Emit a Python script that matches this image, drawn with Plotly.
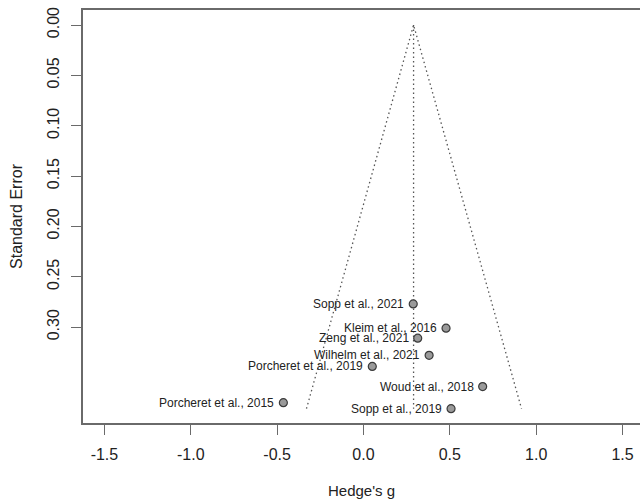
import plotly.graph_objects as go

# ---- data ----
studies = [
    "Sopp et al., 2021",
    "Kleim et al., 2016",
    "Zeng et al., 2021",
    "Wilhelm et al., 2021",
    "Porcheret et al., 2019",
    "Woud et al., 2018",
    "Porcheret et al., 2015",
    "Sopp et al., 2019",
]
hedges_g = [0.288, 0.478, 0.314, 0.380, 0.051, 0.690, -0.464, 0.507]
std_err = [0.277, 0.301, 0.311, 0.328, 0.339, 0.359, 0.375, 0.381]

pooled_g = 0.29          # apex / centre line of the funnel
funnel_lower = -0.33     # left funnel edge at the bottom
funnel_upper = 0.915     # right funnel edge at the bottom
funnel_se_max = 0.381    # funnel depth

x_ticks = [-1.5, -1.0, -0.5, 0.0, 0.5, 1.0, 1.5]
x_tick_labels = ["-1.5", "-1.0", "-0.5", "0.0", "0.5", "1.0", "1.5"]
y_ticks = [0.00, 0.05, 0.10, 0.15, 0.20, 0.25, 0.30]
y_tick_labels = ["0.00", "0.05", "0.10", "0.15", "0.20", "0.25", "0.30"]

FONT = "Liberation Sans, Arial, Helvetica, sans-serif"
AXCOL = "#6a6a6a"
TXT = "#222222"

fig = go.Figure()

# funnel (pseudo confidence region)
fig.add_trace(go.Scatter(
    x=[funnel_lower, pooled_g, funnel_upper],
    y=[funnel_se_max, 0, funnel_se_max],
    mode="lines",
    line=dict(color="#555555", width=1.3, dash="1.5px,3px"),
    hoverinfo="skip", showlegend=False,
))
# centre line
fig.add_trace(go.Scatter(
    x=[pooled_g, pooled_g],
    y=[0, funnel_se_max],
    mode="lines",
    line=dict(color="#555555", width=1.3, dash="1.5px,3px"),
    hoverinfo="skip", showlegend=False,
))
# studies
fig.add_trace(go.Scatter(
    x=hedges_g, y=std_err, mode="markers",
    marker=dict(size=8, color="#9a9a9a", line=dict(color="#3a3a3a", width=1.2)),
    text=studies, hoverinfo="text", showlegend=False,
))

for s, g, se in zip(studies, hedges_g, std_err):
    fig.add_annotation(
        x=g, y=se, text=s, showarrow=False,
        xanchor="right", yanchor="middle", xshift=-7,
        font=dict(family=FONT, size=12, color=TXT),
    )

fig.update_layout(
    width=640, height=503, autosize=False,
    margin=dict(l=83, r=0, t=10, b=80),
    paper_bgcolor="white", plot_bgcolor="white",
    font=dict(family=FONT, size=15, color=TXT),
    showlegend=False,
)

fig.update_xaxes(
    range=[-1.624, 1.601],
    tickvals=x_ticks, ticktext=x_tick_labels,
    ticks="outside", ticklen=10, tickwidth=1.3, tickcolor=AXCOL,
    ticklabelstandoff=6,
    showline=True, linecolor=AXCOL, linewidth=1.5, mirror=True,
    showgrid=False, zeroline=False,
    tickfont=dict(family=FONT, size=16, color=TXT),
    title=dict(text="Hedge's g", standoff=24, font=dict(family=FONT, size=15, color=TXT)),
)
fig.update_yaxes(
    range=[0.3952, -0.0149],
    tickvals=y_ticks, ticktext=y_tick_labels, tickangle=-90,
    ticks="outside", ticklen=10, tickwidth=1.3, tickcolor=AXCOL,
    ticklabelstandoff=6,
    showline=True, linecolor=AXCOL, linewidth=1.5, mirror=False,
    showgrid=False, zeroline=False,
    tickfont=dict(family=FONT, size=16, color=TXT),
    title=dict(text="Standard Error", standoff=18, font=dict(family=FONT, size=16, color=TXT)),
)

fig.write_html(
    "out.html",
    config={"displayModeBar": False},
    post_script="document.body.style.margin='0';",
)
